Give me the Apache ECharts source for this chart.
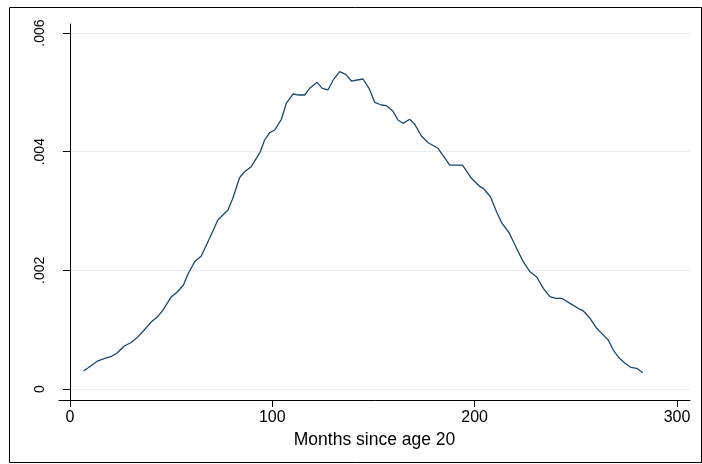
<!DOCTYPE html>
<html>
<head>
<meta charset="utf-8">
<title>Months since age 20</title>
<script src="https://cdn.jsdelivr.net/npm/echarts@6/dist/echarts.min.js"></script>
<style>
    html, body { margin: 0; padding: 0; background: #fff; }
    #chart { width: 702px; height: 464px; }
</style>
</head>
<body>
<div id="chart"></div>
<script>
// months since age 20 (x) and density (y)
var months = [6.7, 10.3, 13.6, 16.9, 20.2, 23.5, 26.8, 30.1, 33.4, 36.7,
    40.0, 43.3, 45.8, 49.9, 53.2, 56.1, 58.1, 61.6, 64.9, 69.0,
    73.1, 78.1, 80.5, 83.8, 86.3, 89.6, 92.1, 94.0, 96.2, 98.7,
    101.2, 104.5, 106.9, 110.2, 113.2, 116.0, 118.8, 122.1, 124.7, 127.5,
    130.3, 133.3, 136.3, 139.1, 141.9, 144.8, 147.8, 150.6, 153.9, 156.4,
    159.4, 162.1, 164.6, 167.9, 170.4, 173.7, 177.0, 181.9, 187.7, 194.0,
    198.4, 202.6, 204.2, 207.8, 210.8, 213.3, 217.0, 220.7, 224.0, 227.3,
    230.6, 233.9, 237.2, 240.1, 243.0, 247.1, 251.7, 253.6, 257.0, 260.3,
    262.7, 266.0, 268.5, 271.5, 274.3, 277.1, 280.1, 283.0];
var density = [0.000303, 0.000388, 0.000472, 0.000511, 0.000544, 0.000612, 0.000725, 0.000780, 0.000871, 0.000994,
    0.001124, 0.001219, 0.001320, 0.001546, 0.001640, 0.001753, 0.001922, 0.002146, 0.002242, 0.002540,
    0.002848, 0.003017, 0.003214, 0.003561, 0.003663, 0.003747, 0.003888, 0.003995, 0.004197, 0.004320,
    0.004365, 0.004546, 0.004815, 0.004972, 0.004955, 0.004955, 0.005078, 0.005169, 0.005068, 0.005040,
    0.005220, 0.005348, 0.005304, 0.005191, 0.005208, 0.005225, 0.005068, 0.004832, 0.004787, 0.004775,
    0.004691, 0.004534, 0.004478, 0.004546, 0.004461, 0.004264, 0.004151, 0.004057, 0.003775, 0.003775,
    0.003551, 0.003410, 0.003383, 0.003241, 0.002988, 0.002803, 0.002634, 0.002371, 0.002146, 0.001977,
    0.001893, 0.001697, 0.001556, 0.001529, 0.001529, 0.001444, 0.001348, 0.001320, 0.001192, 0.001023,
    0.000938, 0.000826, 0.000657, 0.000517, 0.000433, 0.000366, 0.000349, 0.000275];

var xTicks = [0, 100, 200, 300];
var yTicks = [0, 0.002, 0.004, 0.006];
var yTickLabels = ['0', '.002', '.004', '.006'];

function initChart() {
    var points = [];
    for (var i = 0; i < months.length; i++) {
        points.push([months[i], density[i]]);
    }

    var font = 'Liberation Sans, Arial, sans-serif';

    var option = {
        animation: false,
        backgroundColor: '#fff',
        grid: {
            left: 59,
            right: 12,
            top: 24,
            bottom: 64
        },
        // outer frame round the whole graph
        graphic: [{
            type: 'rect',
            left: 7,
            top: 5,
            shape: {width: 692, height: 455},
            style: {fill: 'none', stroke: '#000', lineWidth: 1},
            silent: true
        }],
        xAxis: {
            type: 'value',
            min: -5.4,
            max: 306.4,
            name: 'Months since age 20',
            nameLocation: 'middle',
            nameGap: 27,
            nameTextStyle: {color: '#000', fontFamily: font, fontSize: 17.5},
            axisLine: {onZero: false, lineStyle: {color: '#000', width: 1}},
            axisTick: {customValues: xTicks, length: 7, lineStyle: {color: '#000'}},
            axisLabel: {
                customValues: xTicks,
                margin: 10,
                color: '#000',
                fontFamily: font,
                fontSize: 16
            },
            splitLine: {show: false}
        },
        yAxis: {
            type: 'value',
            min: -0.000185,
            max: 0.006152,
            axisLine: {show: true, lineStyle: {color: '#000', width: 1}},
            axisTick: {show: true, customValues: yTicks, length: 7, lineStyle: {color: '#000'}},
            axisLabel: {
                customValues: yTicks,
                rotate: 90,
                margin: 12,
                color: '#000',
                fontFamily: font,
                fontSize: 14,
                formatter: function (v) {
                    for (var k = 0; k < yTicks.length; k++) {
                        if (Math.abs(v - yTicks[k]) < 1e-9) return yTickLabels[k];
                    }
                    return '';
                }
            },
            splitLine: {show: true, lineStyle: {color: '#e6eef1', width: 1}}
        },
        series: [{
            type: 'line',
            data: points,
            showSymbol: false,
            smooth: false,
            lineStyle: {color: '#1a476f', width: 1.3}
        }]
    };

    var chart = echarts.init(document.getElementById('chart'));
    chart.setOption(option);
}

initChart();
</script>
</body>
</html>
